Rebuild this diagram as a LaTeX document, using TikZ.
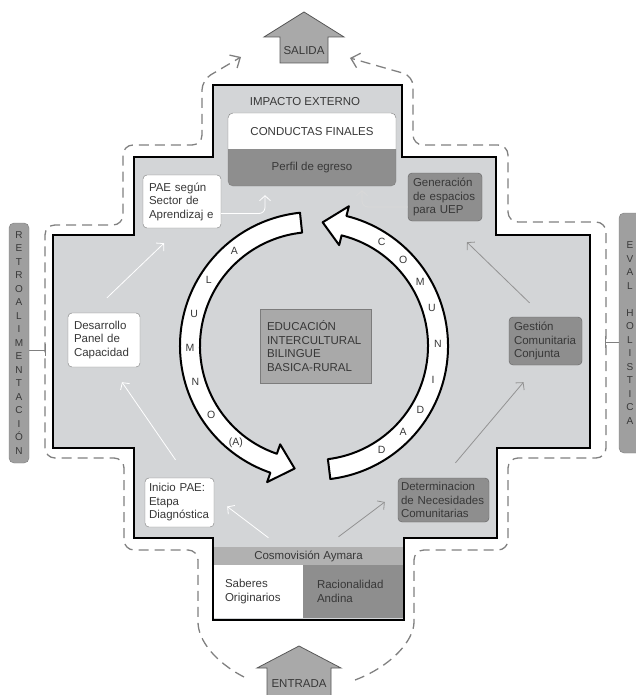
\documentclass[tikz,border=0pt]{standalone}
\usepackage{fontspec}
\setmainfont{Liberation Sans}
\usetikzlibrary{arrows.meta,calc}
\definecolor{fondo}{HTML}{D3D5D7}
\definecolor{oscuro}{HTML}{8E8E8E}
\definecolor{medio}{HTML}{A9A9A9}
\definecolor{banda}{HTML}{B1B1B1}
\definecolor{tinta}{HTML}{383838}
\definecolor{borde}{HTML}{7C7C7C}

\begin{document}
\begin{tikzpicture}[x=1pt,y=-1pt,
    txt/.style={font=\fontsize{11.5}{13.5}\selectfont, text=tinta},
    caja/.style={txt, draw=borde, fill=white, rounded corners=4pt, align=left, inner xsep=6pt, inner ysep=2pt},
    cajaosc/.style={caja, fill=oscuro, draw=borde!80!black},
    barra/.style={draw=borde, fill=oscuro!85!white, rounded corners=5pt, align=center, minimum width=20pt, inner sep=0pt, font=\fontsize{10}{13.5}\selectfont, text=tinta},
    flecha/.style={draw=borde!70!black, fill=medio, line width=0.8pt},
    giro/.style={draw=black, fill=white, line width=2pt, line join=round},
    letra/.style={font=\fontsize{10.5}{12}\selectfont, text=tinta},
    discont/.style={draw=gray, line width=1.3pt, dash pattern=on 10pt off 6pt, -{Straight Barb[length=8pt,width=15pt]}},
    flujo/.style={draw=white, line width=0.8pt, -{Straight Barb[length=5pt,width=11pt]}},
    flujogris/.style={flujo, draw=gray!85},
    conector/.style={draw=gray, line width=0.9pt}]
\useasboundingbox (0,0) rectangle (636,695);
\def\contorno{(213,85) -- (402,85) -- (402,157) -- (496,157) -- (496,235) -- (590,235) -- (590,448) -- (497,448) -- (497,538) -- (404,538) -- (404,620) -- (213,620) -- (213,538) -- (134,538) -- (134,448) -- (53,448) -- (53,235) -- (134,235) -- (134,157) -- (213,157) -- cycle}
\fill[fondo] \contorno;

\draw[flecha] (280,63) -- (280,37) -- (264,37) -- (304,12) -- (344,37) -- (328,37) -- (328,63) -- cycle;
\draw[flecha] (267,700) -- (267,668) -- (257,668) -- (299,646) -- (341,668) -- (331,668) -- (331,700);
\node[txt] (salida) at (304,51) {SALIDA};
\node[txt] (entrada) at (299,684) {ENTRADA};

\draw[discont, rounded corners=10pt] ($(entrada.west)+(-24,-7)$) .. controls (215,662) and (198,640) .. (198,612) -- (198,550) -- (124,550) -- (124,458) -- (45,458) -- (45,225) -- (123,225) -- (123,145) -- (202,145) -- (202,80) -- ($(salida.west)+(-39,6)$);
\draw[discont, rounded corners=10pt] ($(entrada.east)+(25,-4)$) .. controls (392,666) and (414,640) .. (414,612) -- (414,550) -- (508,550) -- (508,458) -- (606,458) -- (606,222) -- (508,222) -- (508,145) -- (413,145) -- (413,76) -- ($(salida.east)+(22,7)$);

\node[barra, minimum height=240] (retro) at (19,343) {R\\E\\T\\R\\O\\A\\L\\I\\M\\E\\N\\T\\A\\C\\I\\Ó\\N};
\node[barra, minimum height=240, minimum width=22] (eval) at (630,333) {E\\V\\A\\L\\ \\H\\O\\L\\I\\S\\T\\I\\C\\A};
\draw[conector] ($(retro.east)+(0,7)$) -- ++(16,0) ++(0,-6) -- ++(0,12);
\draw[conector] ($(eval.west)+(0,9)$) -- ++(-13,0) ++(0,-6) -- ++(0,12);

\fill[white, rounded corners=5pt] (228,113) rectangle (396,186);
\begin{scope}
\clip (228,150) rectangle (396,190);
\fill[oscuro, rounded corners=5pt] (228,113) rectangle (396,186);
\end{scope}
\draw[draw=borde, rounded corners=5pt] (228,113) rectangle (396,186);
\node[txt] (impacto) at (305,102) {IMPACTO EXTERNO};
\node[txt, minimum width=168, minimum height=37, inner sep=0] (conductas) at (312,131.5) {CONDUCTAS FINALES};
\node[txt, minimum width=168, minimum height=36, inner sep=0] (perfil) at (312,168) {Perfil de egreso};

\node[caja, text width=66, minimum height=53] (pae) at (182,201.5) {PAE según\\Sector de\\Aprendizaj e};
\node[cajaosc, text width=64, inner xsep=5, minimum height=48] (generacion) at (445,197) {Generación\\de espacios\\para UEP};
\node[caja, text width=60, minimum height=54] (desarrollo) at (104,340) {Desarrollo\\Panel de\\Capacidad};
\node[cajaosc, text width=63, inner xsep=5, minimum height=48] (gestion) at (545.5,341) {Gestión\\Comunitaria\\Conjunta};
\node[caja, text width=61, inner xsep=4, minimum height=49] (inicio) at (179.5,502.5) {Inicio PAE:\\Etapa\\Diagnóstica};
\node[cajaosc, text width=85, inner xsep=3, minimum height=44] (determinacion) at (443.5,500) {Determinacion\\de Necesidades\\Comunitarias};
\node[caja, fill=medio, draw=borde, rounded corners=0, text width=97, inner xsep=7, minimum height=74] (eib) at (315.5,346) {EDUCACIÓN\\INTERCULTURAL\\BILINGUE\\BASICA-RURAL};

\node[txt, fill=banda, minimum width=191, minimum height=18, inner sep=0] (cosmo) at (308.5,556) {Cosmovisión Aymara};
\node[txt, fill=white, align=left, text width=66, inner xsep=12, minimum height=53] (saberes) at (258,591.5) {Saberes\\Originarios};
\node[txt, fill=oscuro, align=left, text width=73, inner xsep=14, minimum height=53] (racional) at (353.5,591.5) {Racionalidad\\Andina};

\begin{scope}[shift={(314,346)}, yscale=-1]
\draw[giro] (96:134) arc[start angle=96, end angle=251, radius=134] -- (251:144) -- (261:124) -- (251:104) -- (251:114) arc[start angle=251, end angle=96, radius=114] -- cycle;
\draw[giro] (-83:134) arc[start angle=-83, end angle=76, radius=134] -- (76:144) -- (86:124) -- (76:104) -- (76:114) arc[start angle=76, end angle=-83, radius=114] -- cycle;
\foreach \ang/\l [count=\i] in {130/A,148/L,165/U,181/M,197/N,214/O,231/(A)}
    \node[letra] (izq\i) at (\ang:124) {\l};
\foreach \ang/\l [count=\i] in {57/C,44/O,31/M,18/U,1/N,-16/I,-31/D,-44/A,-57/D}
    \node[letra] (der\i) at (\ang:124) {\l};
\end{scope}

\draw[flujo] ($(inicio.north)+(-4,-18)$) -- ($(desarrollo.south)+(18,15)$);
\draw[flujo] ($(desarrollo.north)+(3,-15)$) -- ($(pae.south)+(-18,15)$);
\draw[flujo, rounded corners=6pt] ($(pae.east)+(0,12)$) -| ($(perfil.south)+(-47,9)$);
\draw[flujo, draw=gray!30!white, rounded corners=6pt] ($(generacion.west)+(0,10)$) -| ($(perfil.south)+(50,4)$);
\draw[flujogris] ($(gestion.north)+(-16,-14)$) -- ($(generacion.south)+(22,21)$);
\draw[flujogris] ($(determinacion.north)+(12,-15)$) -- ($(gestion.south)+(-22,17)$);
\draw[flujo] ($(cosmo.north)+(-40,-9)$) -- ($(inicio.east)+(13,4)$);
\draw[flujogris] ($(cosmo.north)+(30,-10)$) -- ($(determinacion.west)+(-13,2)$);

\draw[line width=2.8pt] \contorno;
\end{tikzpicture}
\end{document}
